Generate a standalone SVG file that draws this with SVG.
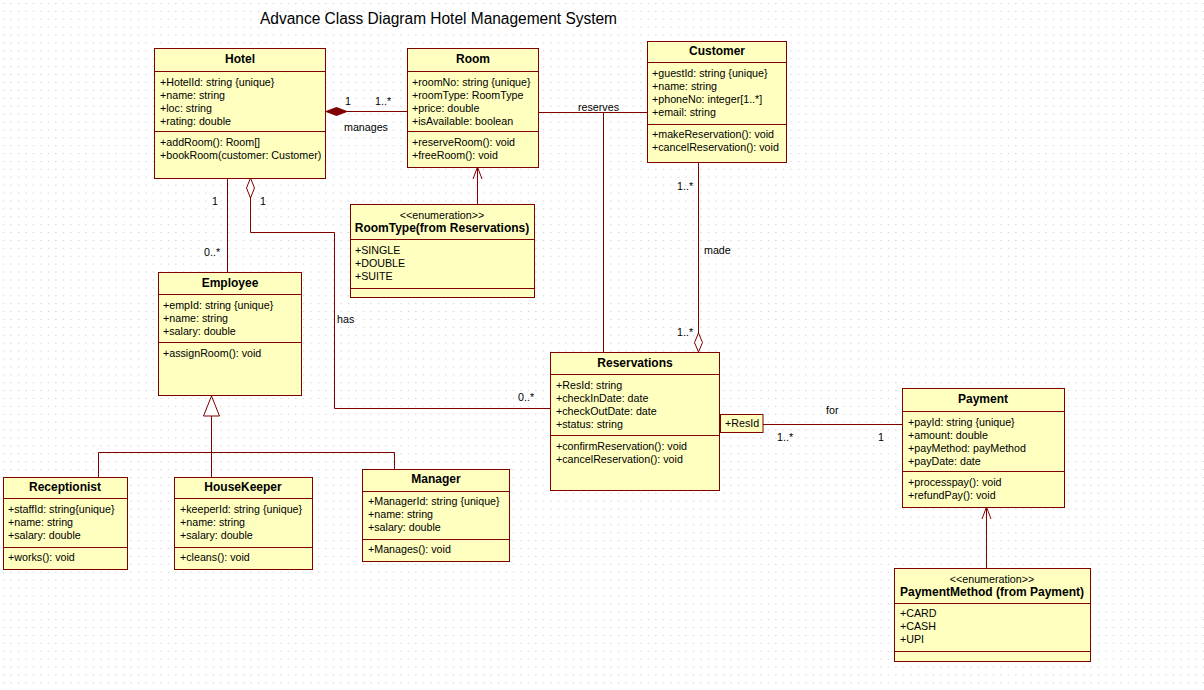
<svg xmlns="http://www.w3.org/2000/svg" width="1204" height="690" viewBox="0 0 1204 690">
<defs>
<pattern id="dots" width="7.5" height="7.9" patternUnits="userSpaceOnUse"><rect x="3" y="3" width="1" height="1" fill="#bdbdbd"/></pattern>
</defs>
<style>
.box{fill:#ffffc0;stroke:#800000;stroke-width:1}
.sep{stroke:#800000;stroke-width:1}
.ln{fill:none;stroke:#800000;stroke-width:1}
text{font-family:"Liberation Sans",Arial,sans-serif;font-size:10.7px;fill:#000}
.h{font-weight:bold;text-anchor:middle;font-size:12px}
.st{text-anchor:middle}
.title{font-size:16px}
</style>
<rect width="1204" height="690" fill="#ffffff"/>
<rect width="1204" height="690" fill="url(#dots)"/>
<text class="title" x="260" y="24" textLength="357" lengthAdjust="spacingAndGlyphs">Advance Class Diagram Hotel Management System</text>

<g id="connectors">
<path class="ln" d="M326 111.5 H407"/>
<polygon points="326,111.5 336.5,107.5 347,111.5 336.5,115.5" fill="#800000" stroke="#800000"/>
<path class="ln" d="M538 112.5 H647 M603.5 112.5 V352"/>
<path class="ln" d="M698.5 162 V333"/>
<polygon points="698.5,352 702.5,342.5 698.5,333 694.5,342.5" fill="#ffffff" stroke="#800000"/>
<path class="ln" d="M227.5 178 V272"/>
<path class="ln" d="M250.5 198 V232.5 H334.5 V408.5 H550"/>
<polygon points="250.5,178 254.5,188 250.5,198 246.5,188" fill="#ffffff" stroke="#800000"/>
<path class="ln" d="M477.5 204 V167 M473 179 L477.5 167 L482 179"/>
<path class="ln" d="M986.5 568 V507 M982 519 L986.5 507 L991 519"/>
<path class="ln" d="M763 424.5 H902"/>
<path class="ln" d="M211.5 416 V477 M98.5 452.5 H394.5 M98.5 452.5 V477 M394.5 452.5 V469"/>
<polygon points="211.5,396 219.5,416 203.5,416" fill="#ffffff" stroke="#800000"/>
<text x="345" y="105">1</text>
<text x="375" y="105">1..*</text>
<text x="344" y="131">manages</text>
<text x="578" y="111">reserves</text>
<text x="677" y="190">1..*</text>
<text x="704" y="254">made</text>
<text x="677" y="336">1..*</text>
<text x="212" y="205">1</text>
<text x="260" y="205">1</text>
<text x="204" y="256">0..*</text>
<text x="337" y="323">has</text>
<text x="518" y="401">0..*</text>
<text x="826" y="414">for</text>
<text x="777" y="441">1..*</text>
<text x="878" y="441">1</text>
</g>

<g id="Hotel">
<rect class="box" x="154.5" y="48.5" width="171" height="130"/>
<path class="sep" d="M154.5 71.5 H325.5 M154.5 131.5 H325.5"/>
<text class="h" x="240" y="63">Hotel</text>
<text x="160" y="86">+HotelId: string {unique}</text>
<text x="160" y="99">+name: string</text>
<text x="160" y="112">+loc: string</text>
<text x="160" y="125">+rating: double</text>
<text x="160" y="146">+addRoom(): Room[]</text>
<text x="160" y="159">+bookRoom(customer: Customer)</text>
</g>

<g id="Room">
<rect class="box" x="407.5" y="48.5" width="131" height="119"/>
<path class="sep" d="M407.5 71.5 H538.5 M407.5 131.5 H538.5"/>
<text class="h" x="473" y="63">Room</text>
<text x="412" y="86">+roomNo: string {unique}</text>
<text x="412" y="99">+roomType: RoomType</text>
<text x="412" y="112">+price: double</text>
<text x="412" y="125">+isAvailable: boolean</text>
<text x="412" y="146">+reserveRoom(): void</text>
<text x="412" y="159">+freeRoom(): void</text>
</g>

<g id="Customer">
<rect class="box" x="647.5" y="41.5" width="139" height="121"/>
<path class="sep" d="M647.5 62.5 H786.5 M647.5 124.5 H786.5"/>
<text class="h" x="717" y="55">Customer</text>
<text x="652" y="77">+guestId: string {unique}</text>
<text x="652" y="90">+name: string</text>
<text x="652" y="103">+phoneNo: integer[1..*]</text>
<text x="652" y="116">+email: string</text>
<text x="652" y="138">+makeReservation(): void</text>
<text x="652" y="151">+cancelReservation(): void</text>
</g>

<g id="RoomType">
<rect class="box" x="350.5" y="204.5" width="184" height="93"/>
<path class="sep" d="M350.5 239.5 H534.5 M350.5 288.5 H534.5"/>
<text class="st" x="442" y="219">&lt;&lt;enumeration&gt;&gt;</text>
<text class="h" x="442" y="232">RoomType(from Reservations)</text>
<text x="355" y="254">+SINGLE</text>
<text x="355" y="267">+DOUBLE</text>
<text x="355" y="280">+SUITE</text>
</g>

<g id="Employee">
<rect class="box" x="158.5" y="272.5" width="143" height="123"/>
<path class="sep" d="M158.5 294.5 H301.5 M158.5 342.5 H301.5"/>
<text class="h" x="230" y="287">Employee</text>
<text x="163" y="309">+empId: string {unique}</text>
<text x="163" y="322">+name: string</text>
<text x="163" y="335">+salary: double</text>
<text x="163" y="357">+assignRoom(): void</text>
</g>

<g id="Reservations">
<rect class="box" x="550.5" y="352.5" width="169" height="138"/>
<path class="sep" d="M550.5 374.5 H719.5 M550.5 435.5 H719.5"/>
<text class="h" x="635" y="367">Reservations</text>
<text x="556" y="389">+ResId: string</text>
<text x="556" y="402">+checkInDate: date</text>
<text x="556" y="415">+checkOutDate: date</text>
<text x="556" y="428">+status: string</text>
<text x="556" y="450">+confirmReservation(): void</text>
<text x="556" y="463">+cancelReservation(): void</text>
<rect class="box" x="720.5" y="414.5" width="42.5" height="18"/>
<text x="725" y="427">+ResId</text>
</g>

<g id="Payment">
<rect class="box" x="902.5" y="388.5" width="162" height="119"/>
<path class="sep" d="M902.5 411.5 H1064.5 M902.5 471.5 H1064.5"/>
<text class="h" x="983" y="403">Payment</text>
<text x="908" y="426">+payId: string {unique}</text>
<text x="908" y="439">+amount: double</text>
<text x="908" y="452">+payMethod: payMethod</text>
<text x="908" y="465">+payDate: date</text>
<text x="908" y="486">+processpay(): void</text>
<text x="908" y="499">+refundPay(): void</text>
</g>

<g id="PaymentMethod">
<rect class="box" x="894.5" y="568.5" width="196" height="93"/>
<path class="sep" d="M894.5 603.5 H1090.5 M894.5 651.5 H1090.5"/>
<text class="st" x="992" y="583">&lt;&lt;enumeration&gt;&gt;</text>
<text class="h" x="992" y="596">PaymentMethod (from Payment)</text>
<text x="900" y="617">+CARD</text>
<text x="900" y="630">+CASH</text>
<text x="900" y="643">+UPI</text>
</g>

<g id="Receptionist">
<rect class="box" x="3.5" y="477.5" width="124" height="92"/>
<path class="sep" d="M3.5 498.5 H127.5 M3.5 547.5 H127.5"/>
<text class="h" x="65" y="491">Receptionist</text>
<text x="8" y="513">+staffId: string{unique}</text>
<text x="8" y="526">+name: string</text>
<text x="8" y="539">+salary: double</text>
<text x="8" y="561">+works(): void</text>
</g>

<g id="HouseKeeper">
<rect class="box" x="174.5" y="477.5" width="138" height="92"/>
<path class="sep" d="M174.5 498.5 H312.5 M174.5 547.5 H312.5"/>
<text class="h" x="243" y="491">HouseKeeper</text>
<text x="180" y="513">+keeperId: string {unique}</text>
<text x="180" y="526">+name: string</text>
<text x="180" y="539">+salary: double</text>
<text x="180" y="561">+cleans(): void</text>
</g>

<g id="Manager">
<rect class="box" x="362.5" y="469.5" width="147" height="92"/>
<path class="sep" d="M362.5 491.5 H509.5 M362.5 539.5 H509.5"/>
<text class="h" x="436" y="483">Manager</text>
<text x="368" y="505">+ManagerId: string {unique}</text>
<text x="368" y="518">+name: string</text>
<text x="368" y="531">+salary: double</text>
<text x="368" y="553">+Manages(): void</text>
</g>
</svg>
